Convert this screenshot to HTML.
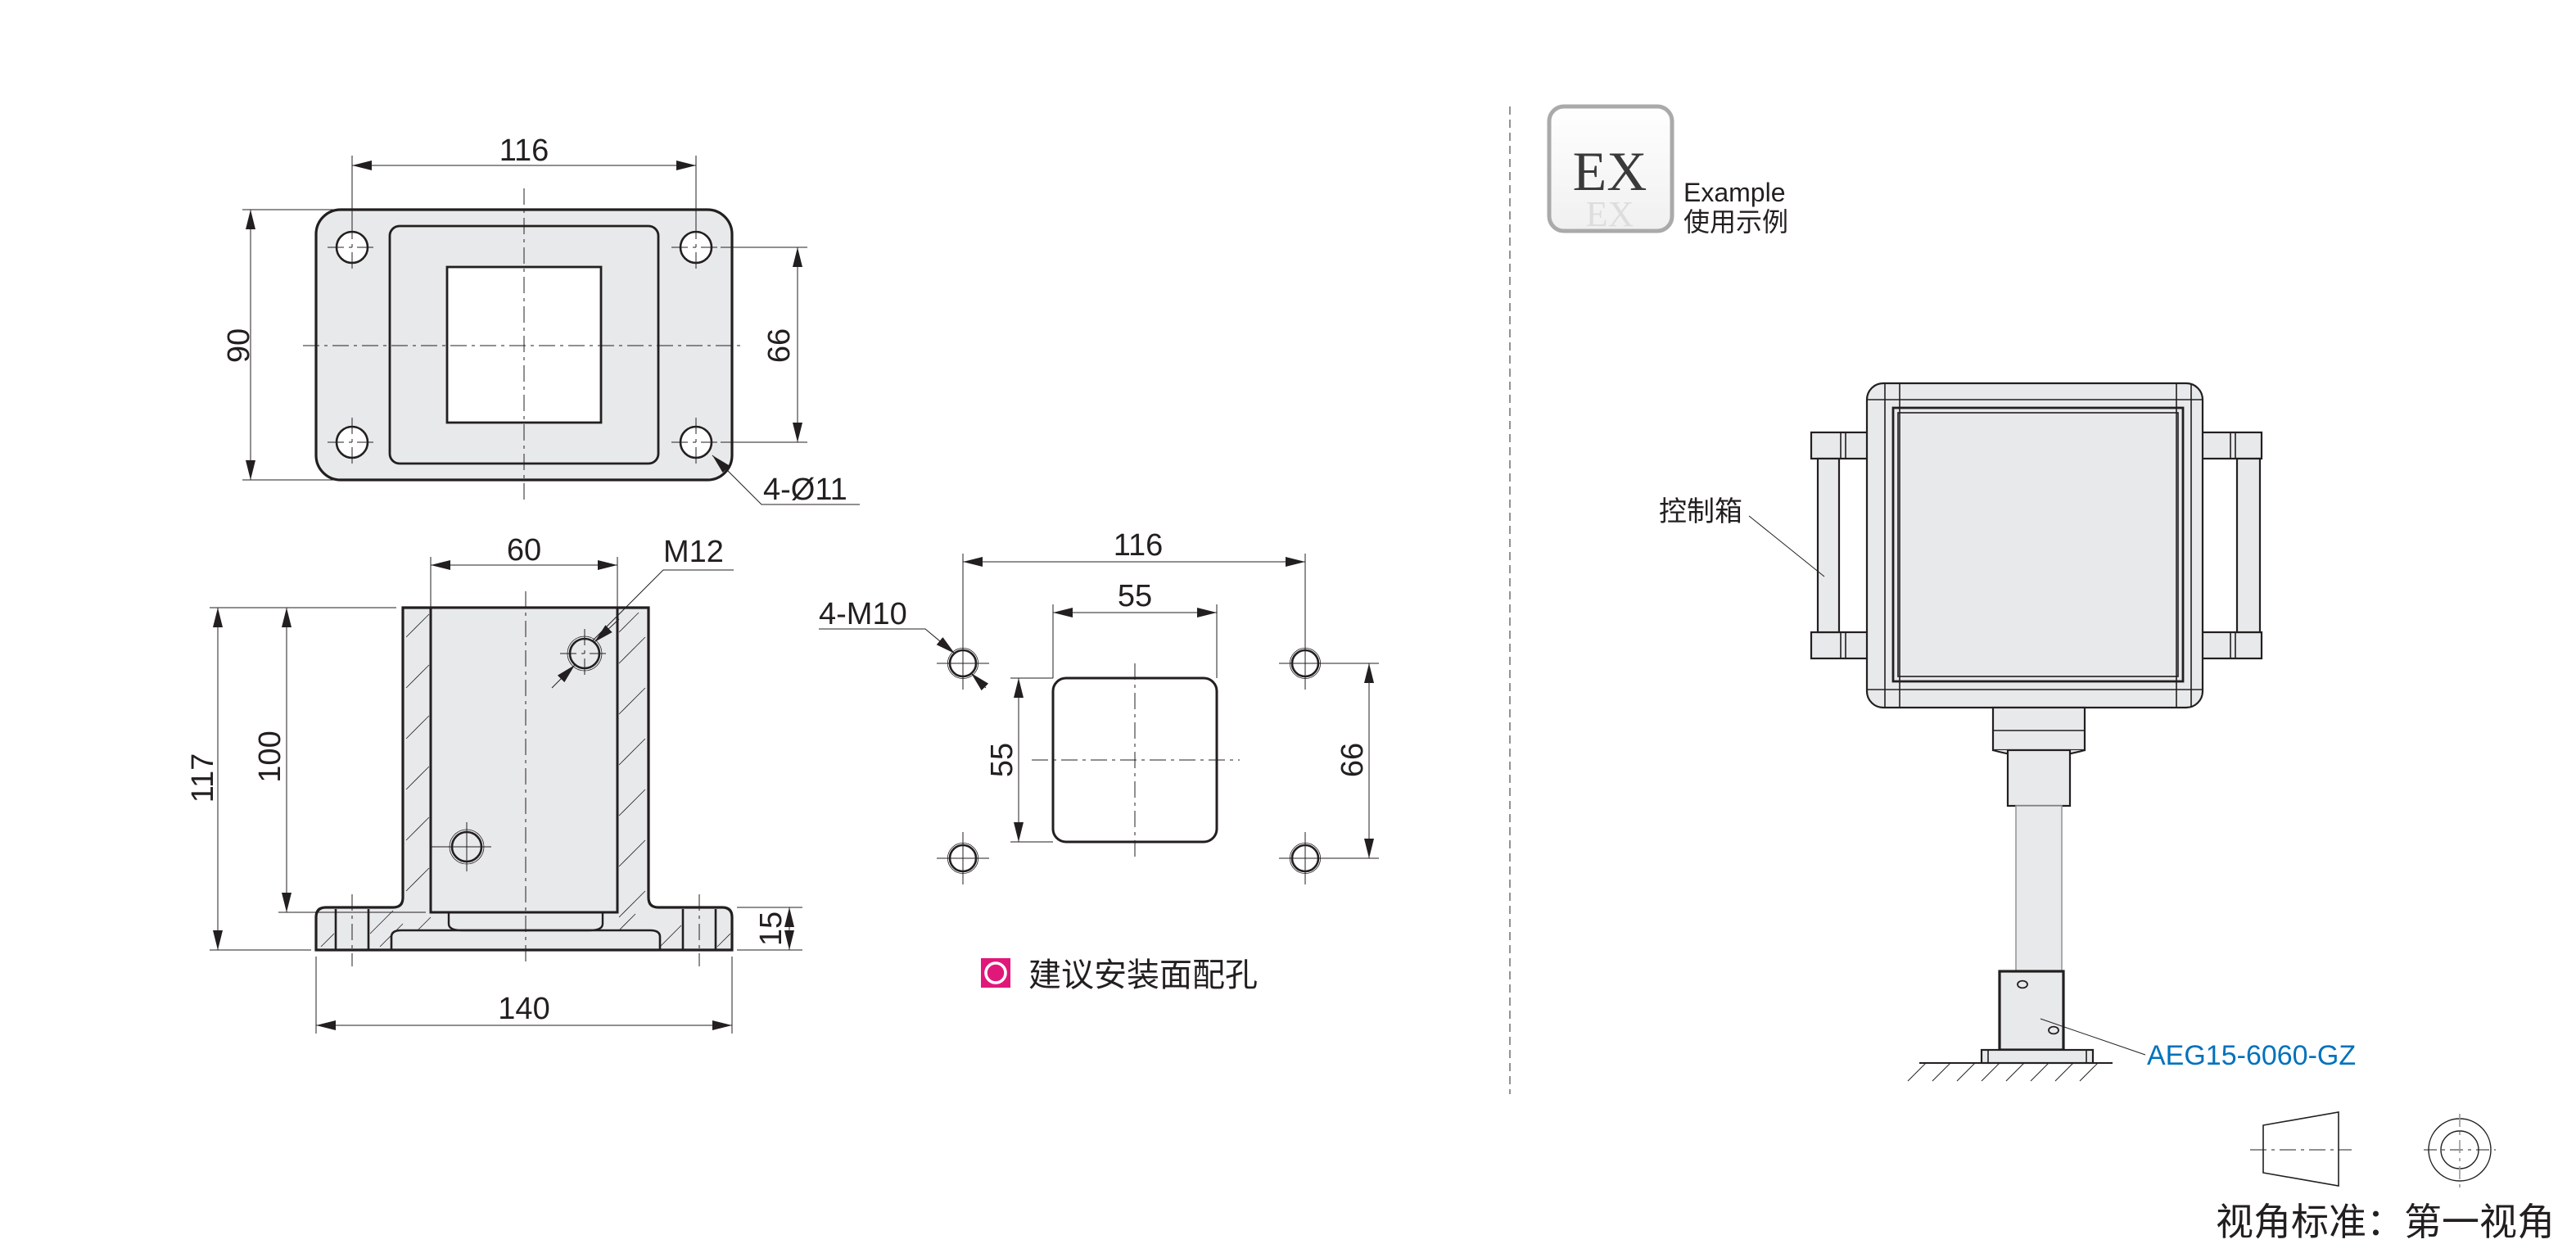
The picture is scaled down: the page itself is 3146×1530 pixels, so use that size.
<!DOCTYPE html>
<html><head><meta charset="utf-8"><style>
html,body{margin:0;padding:0;background:#fff;}
svg{display:block;}
text{font-family:"Liberation Sans","Noto Sans CJK SC",sans-serif;fill:#231f20;}
</style></head><body>
<svg width="3146" height="1530" viewBox="0 0 1573 765" preserveAspectRatio="none" xmlns="http://www.w3.org/2000/svg">
<defs>
<marker id="a" markerUnits="userSpaceOnUse" markerWidth="12" markerHeight="6" refX="12" refY="3" orient="auto-start-reverse" viewBox="0 0 12 6"><path d="M0,0 L12,3 L0,6 Z" fill="#231f20"/></marker>
<linearGradient id="g" x1="0" y1="0" x2="0" y2="1"><stop offset="0" stop-color="#fff"/><stop offset="1" stop-color="#f0f0f0"/></linearGradient>
</defs>
<g stroke="#231f20" fill="none">
<!-- TOP VIEW -->
<rect x="193" y="128" width="254" height="165" rx="15" fill="#e8e9eb" stroke-width="1.6"/>
<rect x="238" y="138" width="164" height="145" rx="6" stroke-width="1.4"/>
<rect x="273" y="163" width="94" height="95" fill="#fff" stroke-width="1.4"/>
<g fill="#fff" stroke-width="1.3">
<circle cx="215" cy="151" r="9.5"/><circle cx="425" cy="151" r="9.5"/>
<circle cx="215" cy="270" r="9.5"/><circle cx="425" cy="270" r="9.5"/>
</g>
<g stroke-width="0.5" stroke-dasharray="10,3,2,3">
<line x1="320" y1="115" x2="320" y2="306"/><line x1="185" y1="211" x2="455" y2="211"/>
<line x1="215" y1="136" x2="215" y2="166"/><line x1="200" y1="151" x2="230" y2="151"/>
<line x1="425" y1="136" x2="425" y2="166"/><line x1="410" y1="151" x2="440" y2="151"/>
<line x1="215" y1="255" x2="215" y2="285"/><line x1="200" y1="270" x2="230" y2="270"/>
<line x1="425" y1="255" x2="425" y2="285"/><line x1="410" y1="270" x2="440" y2="270"/>
</g>
<g stroke-width="0.5">
<line x1="215" y1="95" x2="215" y2="140"/><line x1="425" y1="95" x2="425" y2="140"/>
<line x1="215" y1="101" x2="425" y2="101" marker-start="url(#a)" marker-end="url(#a)"/>
<line x1="148" y1="128" x2="205" y2="128"/><line x1="148" y1="293" x2="205" y2="293"/>
<line x1="153" y1="128" x2="153" y2="293" marker-start="url(#a)" marker-end="url(#a)"/>
<line x1="440" y1="151" x2="493" y2="151"/><line x1="440" y1="270" x2="493" y2="270"/>
<line x1="487" y1="151" x2="487" y2="270" marker-start="url(#a)" marker-end="url(#a)"/>
<polyline points="525,308 465,308 435,278" marker-end="url(#a)"/>
</g>
<!-- FRONT VIEW -->
<path d="M246,371 H396 V548 Q396,554 402,554 H441 Q447,554 447,560 V580 H193 V560 Q193,554 199,554 H240 Q246,554 246,548 Z" fill="#e8e9eb" stroke-width="1.6"/>
<rect x="263" y="371" width="114" height="186" fill="#e8e9eb" stroke-width="1.5"/>
<path d="M274,557 V564 Q274,568 282,568 H360 Q368,568 368,564 V557" stroke-width="1.2"/>
<path d="M239,580 V572 Q239,568 245,568 H397 Q403,568 403,572 V580" stroke-width="1.3"/>
<g stroke-width="1.3"><line x1="205" y1="555" x2="205" y2="580"/><line x1="225" y1="555" x2="225" y2="580"/><line x1="417" y1="555" x2="417" y2="580"/><line x1="437" y1="555" x2="437" y2="580"/></g>
<g stroke-width="0.4">
<line x1="248" y1="389" x2="262" y2="375"/><line x1="248" y1="420" x2="262" y2="406"/><line x1="248" y1="451" x2="262" y2="437"/><line x1="248" y1="482" x2="262" y2="468"/><line x1="248" y1="513" x2="262" y2="499"/><line x1="248" y1="544" x2="262" y2="530"/>
<line x1="378" y1="405" x2="394" y2="389"/><line x1="378" y1="436" x2="394" y2="420"/><line x1="378" y1="467" x2="394" y2="451"/><line x1="378" y1="498" x2="394" y2="482"/><line x1="378" y1="529" x2="394" y2="513"/><line x1="378" y1="560" x2="394" y2="544"/><line x1="378" y1="386" x2="390" y2="374"/>
<line x1="196" y1="578" x2="204" y2="570"/><line x1="226" y1="570" x2="240" y2="556"/><line x1="232" y1="578" x2="246" y2="564"/><line x1="255" y1="568" x2="263" y2="560"/>
<line x1="378" y1="568" x2="388" y2="558"/><line x1="403" y1="578" x2="416" y2="565"/><line x1="438" y1="578" x2="446" y2="570"/>
</g>
<g fill="#e8e9eb" stroke-width="1.3"><circle cx="357" cy="399" r="9"/><circle cx="285" cy="517" r="9"/></g>
<g stroke-width="0.4"><circle cx="357" cy="399" r="10.5"/><circle cx="285" cy="517" r="10.5"/></g>
<g stroke-width="0.5" stroke-dasharray="10,3,2,3">
<line x1="321" y1="361" x2="321" y2="590"/>
<line x1="215" y1="546" x2="215" y2="590"/><line x1="427" y1="546" x2="427" y2="590"/>
<line x1="357" y1="384" x2="357" y2="414"/><line x1="342" y1="399" x2="372" y2="399"/>
</g>
<g stroke-width="0.5">
<line x1="285" y1="502" x2="285" y2="532"/><line x1="263" y1="517" x2="300" y2="517"/>
<line x1="263" y1="340" x2="263" y2="371"/><line x1="377" y1="340" x2="377" y2="371"/>
<line x1="263" y1="345" x2="377" y2="345" marker-start="url(#a)" marker-end="url(#a)"/>
<line x1="128" y1="371" x2="242" y2="371"/><line x1="128" y1="580" x2="190" y2="580"/>
<line x1="170" y1="557" x2="260" y2="557"/>
<line x1="133" y1="371" x2="133" y2="580" marker-start="url(#a)" marker-end="url(#a)"/>
<line x1="175" y1="371" x2="175" y2="557" marker-start="url(#a)" marker-end="url(#a)"/>
<line x1="450" y1="554" x2="490" y2="554"/><line x1="450" y1="580" x2="490" y2="580"/>
<line x1="482" y1="554" x2="482" y2="580" marker-start="url(#a)" marker-end="url(#a)"/>
<line x1="193" y1="584" x2="193" y2="631"/><line x1="447" y1="584" x2="447" y2="631"/>
<line x1="193" y1="626" x2="447" y2="626" marker-start="url(#a)" marker-end="url(#a)"/>
<polyline points="448,348 405,348 362,391"/>
<line x1="378" y1="378" x2="363" y2="392" marker-end="url(#a)"/>
<line x1="337" y1="420" x2="351" y2="406" marker-end="url(#a)"/>
</g>
<!-- MOUNTING PATTERN -->
<rect x="643" y="414" width="100" height="100" rx="8" stroke-width="1.5"/>
<g stroke-width="1.3" fill="#fff"><circle cx="588" cy="405" r="8"/><circle cx="797" cy="405" r="8"/><circle cx="588" cy="524" r="8"/><circle cx="797" cy="524" r="8"/></g>
<g stroke-width="0.4"><circle cx="588" cy="405" r="9.3"/><circle cx="797" cy="405" r="9.3"/><circle cx="588" cy="524" r="9.3"/><circle cx="797" cy="524" r="9.3"/></g>
<g stroke-width="0.5" stroke-dasharray="10,3,2,3">
<line x1="693" y1="405" x2="693" y2="524"/><line x1="630" y1="464" x2="757" y2="464"/>
</g>
<g stroke-width="0.5">
<line x1="588" y1="389" x2="588" y2="421"/><line x1="572" y1="405" x2="604" y2="405"/>
<line x1="797" y1="389" x2="797" y2="421"/><line x1="781" y1="405" x2="813" y2="405"/>
<line x1="588" y1="508" x2="588" y2="540"/><line x1="572" y1="524" x2="604" y2="524"/>
<line x1="797" y1="508" x2="797" y2="540"/><line x1="781" y1="524" x2="813" y2="524"/>
<line x1="588" y1="338" x2="588" y2="390"/><line x1="797" y1="338" x2="797" y2="390"/>
<line x1="588" y1="343" x2="797" y2="343" marker-start="url(#a)" marker-end="url(#a)"/>
<line x1="643" y1="369" x2="643" y2="414"/><line x1="743" y1="369" x2="743" y2="414"/>
<line x1="643" y1="374" x2="743" y2="374" marker-start="url(#a)" marker-end="url(#a)"/>
<line x1="617" y1="414" x2="643" y2="414"/><line x1="617" y1="514" x2="643" y2="514"/>
<line x1="622" y1="414" x2="622" y2="514" marker-start="url(#a)" marker-end="url(#a)"/>
<line x1="805" y1="405" x2="842" y2="405"/><line x1="805" y1="524" x2="842" y2="524"/>
<line x1="836" y1="405" x2="836" y2="524" marker-start="url(#a)" marker-end="url(#a)"/>
<polyline points="500,384 565,384 583,399" marker-end="url(#a)"/>
<line x1="602" y1="420" x2="593" y2="411" marker-end="url(#a)"/>
</g>
<!-- separator -->
<line x1="922" y1="65" x2="922" y2="668" stroke="#777" stroke-width="0.8" stroke-dasharray="5,3"/>
<!-- EX badge -->
<rect x="946" y="65" width="75" height="76" rx="9" fill="url(#g)" stroke="#aaa" stroke-width="2.5"/>
<!-- Control box -->
<g stroke-width="1.1" fill="#e8e9eb">
<rect x="1106" y="264" width="35" height="16"/><rect x="1106" y="386" width="35" height="16"/>
<rect x="1110" y="280" width="13" height="106"/>
<rect x="1344" y="264" width="37" height="16"/><rect x="1344" y="386" width="37" height="16"/>
<rect x="1366" y="280" width="14" height="106"/>
<rect x="1140" y="234" width="205" height="198" rx="10"/>
<rect x="1217" y="432" width="56" height="26"/>
<path d="M1217,458 Q1245,466 1273,458"/>
<rect x="1226" y="458" width="38" height="34"/>
<rect x="1231" y="492" width="28" height="101" stroke="#999" stroke-width="0.8"/>
<rect x="1221" y="593" width="39" height="48" stroke-width="1.6"/>
<rect x="1210" y="641" width="68" height="8"/>
</g>
<g stroke-width="0.8">
<line x1="1124" y1="264" x2="1124" y2="280"/><line x1="1127" y1="264" x2="1127" y2="280"/>
<line x1="1124" y1="386" x2="1124" y2="402"/><line x1="1127" y1="386" x2="1127" y2="402"/>
<line x1="1362" y1="264" x2="1362" y2="280"/><line x1="1365" y1="264" x2="1365" y2="280"/>
<line x1="1362" y1="386" x2="1362" y2="402"/><line x1="1365" y1="386" x2="1365" y2="402"/>
<line x1="1151" y1="234" x2="1151" y2="432"/><line x1="1160" y1="234" x2="1160" y2="432"/>
<line x1="1329" y1="234" x2="1329" y2="432"/><line x1="1338" y1="234" x2="1338" y2="432"/>
<line x1="1140" y1="244" x2="1345" y2="244"/><line x1="1140" y1="421" x2="1345" y2="421"/>
<line x1="1217" y1="446" x2="1273" y2="446"/>
<line x1="1214" y1="641" x2="1214" y2="649"/><line x1="1274" y1="641" x2="1274" y2="649"/>
</g>
<rect x="1156" y="249" width="177" height="167" stroke-width="1.4"/>
<rect x="1159" y="252" width="171" height="161" stroke-width="0.8"/>
<g stroke-width="0.9"><ellipse cx="1235" cy="601" rx="3" ry="2.2"/><ellipse cx="1254" cy="629" rx="3" ry="2.2"/></g>
<line x1="1172" y1="649" x2="1290" y2="649" stroke-width="1"/>
<g stroke-width="0.5">
<line x1="1165" y1="660" x2="1176" y2="649"/><line x1="1180" y1="660" x2="1191" y2="649"/><line x1="1195" y1="660" x2="1206" y2="649"/><line x1="1210" y1="660" x2="1221" y2="649"/><line x1="1225" y1="660" x2="1236" y2="649"/><line x1="1240" y1="660" x2="1251" y2="649"/><line x1="1255" y1="660" x2="1266" y2="649"/><line x1="1270" y1="660" x2="1281" y2="649"/>
<line x1="1068" y1="315" x2="1114" y2="352"/>
<line x1="1246" y1="622" x2="1310" y2="644"/>
</g>
<!-- projection symbol -->
<path d="M1382,687 L1428,679 L1428,724 L1382,716 Z" stroke-width="0.8"/>
<line x1="1374" y1="702" x2="1436" y2="702" stroke-width="0.5" stroke-dasharray="10,3,2,3"/>
<circle cx="1502" cy="702" r="19" stroke-width="0.7"/><circle cx="1502" cy="702" r="11.5" stroke-width="0.7"/>
<line x1="1480" y1="702" x2="1524" y2="702" stroke-width="0.5" stroke-dasharray="8,3,2,3"/>
<line x1="1502" y1="680" x2="1502" y2="725" stroke="#999" stroke-width="0.8" stroke-dasharray="8,3,2,3"/>
</g>
<!-- texts -->
<g font-size="19">
<text x="320" y="98" text-anchor="middle">116</text>
<text transform="translate(152,211) rotate(-90)" text-anchor="middle">90</text>
<text transform="translate(482,211) rotate(-90)" text-anchor="middle">66</text>
<text x="466" y="305">4-Ø11</text>
<text x="320" y="342" text-anchor="middle">60</text>
<text x="405" y="343">M12</text>
<text transform="translate(130,475) rotate(-90)" text-anchor="middle">117</text>
<text transform="translate(171,462) rotate(-90)" text-anchor="middle">100</text>
<text transform="translate(477,567) rotate(-90)" text-anchor="middle">15</text>
<text x="320" y="622" text-anchor="middle">140</text>
<text x="695" y="339" text-anchor="middle">116</text>
<text x="693" y="370" text-anchor="middle">55</text>
<text transform="translate(618,464) rotate(-90)" text-anchor="middle">55</text>
<text transform="translate(832,464) rotate(-90)" text-anchor="middle">66</text>
<text x="500" y="381">4-M10</text>
</g>
<rect x="599" y="585" width="18" height="18" fill="#e0187a"/>
<circle cx="608" cy="594" r="6" fill="none" stroke="#fff" stroke-width="1.8"/>
<text x="628" y="602" font-size="20">建议安装面配孔</text>
<text x="983" y="116" font-size="34" text-anchor="middle" style="font-family:'Liberation Serif',serif;fill:#3a3a3a">EX</text>
<text x="983" y="138" font-size="22" text-anchor="middle" style="font-family:'Liberation Serif',serif;fill:#ddd">EX</text>
<text x="1028" y="123" font-size="16">Example</text>
<text x="1028" y="141" font-size="16">使用示例</text>
<text x="1013" y="318" font-size="17">控制箱</text>
<text x="1311" y="650" font-size="17" style="fill:#0072bc">AEG15-6060-GZ</text>
<text x="1353" y="754" font-size="23">视角标准：第一视角</text>
</svg>
</body></html>
